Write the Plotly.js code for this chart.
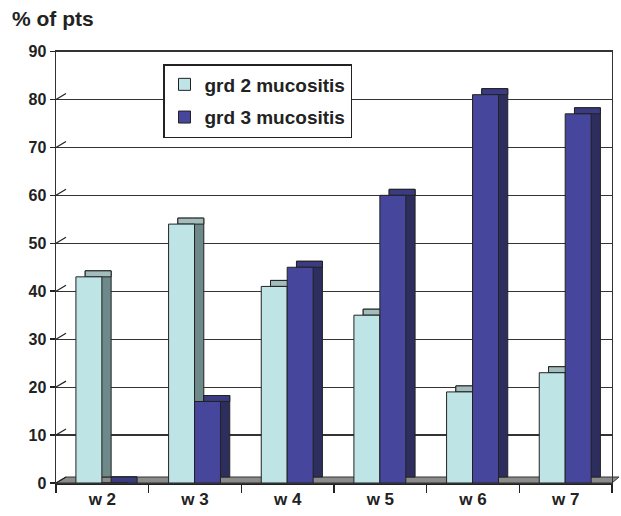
<!DOCTYPE html>
<html>
<head>
<meta charset="utf-8">
<script src="https://cdn.plot.ly/plotly-3.0.1.min.js"></script>
<style>html,body{margin:0;padding:0;background:#fff;}#chart{width:621px;height:516px;}</style>
</head>
<body>
<div id="chart"></div>
<script>
// ---- data ----
const weeks = ['w 2', 'w 3', 'w 4', 'w 5', 'w 6', 'w 7'];
const grd2 = [43, 54, 41, 35, 19, 23];
const grd3 = [0, 17, 45, 60, 81, 77];
const seriesNames = ['grd 2 mucositis', 'grd 3 mucositis'];
const yTicks = [0, 10, 20, 30, 40, 50, 60, 70, 80, 90];

// ---- styling / 3D approximation ----
const FONT = 'Arial, "Liberation Sans", sans-serif';
const depthX = 0.1;    // side depth in category units
const depthY = 1.25;   // side depth in value units
const barW = 0.28;
const offs = [-0.285, -0.005];
const cols = [
  {front: '#bfe4e6', side: '#6d8989', top: '#a3bcbc'},
  {front: '#45469c', side: '#2e2e5e', top: '#3a3b80'}
];
const outline = {color: '#222', width: 1};

const traces = [];
[grd2, grd3].forEach((vals, i) => {
  const c = cols[i];
  traces.push({type: 'bar', x: weeks, y: vals, base: vals.map(() => depthY),
    offset: offs[i] + depthX, width: barW, marker: {color: c.side, line: outline},
    showlegend: false, hoverinfo: 'skip'});
  traces.push({type: 'bar', x: weeks, y: vals.map(() => depthY), base: vals,
    offset: offs[i] + depthX, width: barW, marker: {color: c.top, line: outline},
    showlegend: false, hoverinfo: 'skip'});
  traces.push({type: 'bar', name: seriesNames[i], legendgroup: 'g' + i, x: weeks, y: vals,
    offset: offs[i], width: barW, marker: {color: c.front, line: outline}});
});
// back-wall subplot (no data, only its grid)
traces.push({type: 'scatter', x: [], y: [], xaxis: 'x2', yaxis: 'y2', showlegend: false});

const L = 56, R = 2, T = 45, B = 33;
const W = 621, H = 516;
const pw = W - L - R, ph = H - T - B;
const shiftX = 10 / pw, shiftY = 6 / ph;
const frontX = (612 - L) / pw;
const frontY = (483 - 51.5) / ph;

const shapes = [{
  type: 'path', xref: 'paper', yref: 'paper', layer: 'below',
  path: `M 0,0 L ${frontX},0 L 1,${shiftY} L ${shiftX},${shiftY} Z`,
  fillcolor: '#8c8c8c', line: {color: '#333', width: 1}
}];
yTicks.forEach(t => shapes.push({type: 'line', xref: 'paper', yref: 'y',
  x0: 0, x1: shiftX, y0: t, y1: t + depthY, line: {color: '#222', width: 1.2}}));

const layout = {
  width: W, height: H,
  margin: {l: L, r: R, t: T, b: B, pad: 0},
  paper_bgcolor: '#ffffff', plot_bgcolor: 'rgba(0,0,0,0)',
  barmode: 'overlay',
  font: {family: FONT, color: '#222'},
  title: {text: '% of pts', x: 12 / W, xanchor: 'left', xref: 'container',
    y: 1 - 19 / H, yanchor: 'middle', yref: 'container',
    font: {family: FONT, size: 21, weight: 'bold', color: '#222'}},
  xaxis: {type: 'category', domain: [0, frontX], range: [-0.5, 5.5],
    showgrid: false, showline: true, linecolor: '#222', linewidth: 1.5,
    ticks: 'outside', tickson: 'boundaries', ticklen: 8, tickcolor: '#222', tickwidth: 1.5,
    tickfont: {family: FONT, size: 17, weight: 'bold', color: '#222'}, zeroline: false},
  yaxis: {domain: [0, frontY], range: [0, 90], tickvals: yTicks,
    showgrid: false, zeroline: false, showline: true, linecolor: '#222', linewidth: 1.5,
    ticks: 'outside', ticklen: 5, tickcolor: '#222', tickwidth: 1.5,
    tickfont: {family: FONT, size: 16, weight: 'bold', color: '#222'}},
  xaxis2: {overlaying: 'x', anchor: 'y2', domain: [shiftX, 1], range: [0, 1],
    showgrid: false, zeroline: false, showticklabels: false, ticks: '',
    showline: true, mirror: true, linecolor: '#333', linewidth: 1.2},
  yaxis2: {overlaying: 'y', anchor: 'x2', domain: [shiftY, 1], range: [0, 90],
    tickvals: yTicks, showgrid: true, gridcolor: '#333', gridwidth: 1.2,
    zeroline: false, showticklabels: false, ticks: '',
    showline: true, mirror: true, linecolor: '#333', linewidth: 1.2},
  legend: {x: (163 - L) / pw, y: (483 - 64) / ph, xanchor: 'left', yanchor: 'top',
    bgcolor: '#ffffff', bordercolor: '#222', borderwidth: 1.5,
    font: {family: FONT, size: 19, weight: 'bold', color: '#222'},
    traceorder: 'grouped', tracegroupgap: 5, itemwidth: 30},
  shapes: shapes,
  showlegend: true
};

Plotly.newPlot('chart', traces, layout, {displayModeBar: false, staticPlot: true});
</script>
</body>
</html>
